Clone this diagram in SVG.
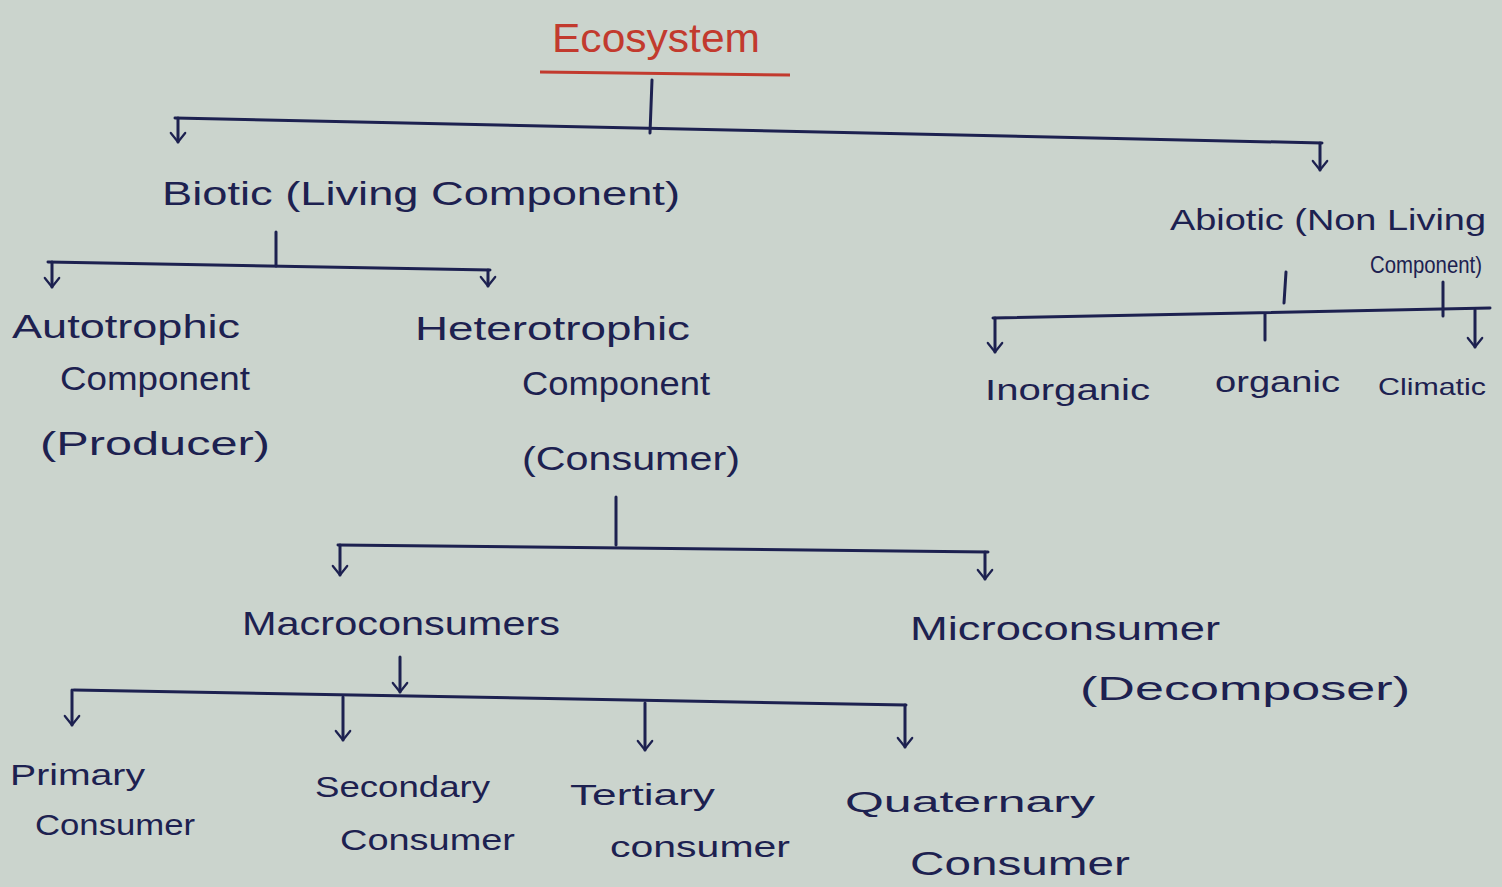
<svg xmlns="http://www.w3.org/2000/svg" width="1502" height="887" viewBox="0 0 1502 887">
<style>
.t{font-family:"Liberation Sans","DejaVu Sans",sans-serif;fill:#1d2150;font-size:34px}
.s{font-size:30px}
.xs{font-size:24px}
.ln{stroke:#1d2150;stroke-width:3;fill:none;stroke-linecap:round}
.ttl{font-family:"Liberation Sans",sans-serif;fill:#c23a2e;font-size:40px}
</style>
<defs>
<marker id="v" viewBox="0 0 20 20" refX="18" refY="10" markerWidth="18" markerHeight="18" markerUnits="userSpaceOnUse" orient="auto">
<path d="M8,2 L18,10 L8,18" fill="none" stroke="#1d2150" stroke-width="2.5" stroke-linecap="round" stroke-linejoin="round"/>
</marker>
</defs>
<rect width="1502" height="887" fill="#cbd4cd"/>
<g id="connectors">
<line class="ln" x1="652" y1="80" x2="650" y2="133"/>
<line class="ln" x1="175" y1="118" x2="1322" y2="143"/>
<line class="ln" x1="178" y1="118" x2="178" y2="142" marker-end="url(#v)"/>
<line class="ln" x1="1320" y1="143" x2="1320" y2="170" marker-end="url(#v)"/>
<line class="ln" x1="276" y1="232" x2="276" y2="266"/>
<line class="ln" x1="48" y1="262" x2="490" y2="270"/>
<line class="ln" x1="52" y1="262" x2="52" y2="287" marker-end="url(#v)"/>
<line class="ln" x1="488" y1="270" x2="488" y2="286" marker-end="url(#v)"/>
<line class="ln" x1="616" y1="497" x2="616" y2="545"/>
<line class="ln" x1="338" y1="545" x2="988" y2="552"/>
<line class="ln" x1="340" y1="545" x2="340" y2="575" marker-end="url(#v)"/>
<line class="ln" x1="985" y1="552" x2="985" y2="579" marker-end="url(#v)"/>
<line class="ln" x1="400" y1="657" x2="400" y2="692" marker-end="url(#v)"/>
<line class="ln" x1="74" y1="690" x2="906" y2="705"/>
<line class="ln" x1="72" y1="690" x2="72" y2="725" marker-end="url(#v)"/>
<line class="ln" x1="343" y1="697" x2="343" y2="740" marker-end="url(#v)"/>
<line class="ln" x1="645" y1="703" x2="645" y2="750" marker-end="url(#v)"/>
<line class="ln" x1="905" y1="705" x2="905" y2="747" marker-end="url(#v)"/>
<line class="ln" x1="1286" y1="272" x2="1284" y2="303"/>
<line class="ln" x1="993" y1="318" x2="1490" y2="308"/>
<line class="ln" x1="995" y1="318" x2="995" y2="352" marker-end="url(#v)"/>
<line class="ln" x1="1265" y1="314" x2="1265" y2="340"/>
<line class="ln" x1="1443" y1="282" x2="1443" y2="316"/>
<line class="ln" x1="1475" y1="310" x2="1475" y2="347" marker-end="url(#v)"/>
</g>
<g id="ecosystem">
<text class="ttl" x="552" y="52" textLength="208" lengthAdjust="spacingAndGlyphs">Ecosystem</text>
<line x1="540" y1="72" x2="790" y2="75" stroke="#c23a2e" stroke-width="3"/>
</g>
<g id="biotic"><text class="t" x="162" y="205" textLength="518" lengthAdjust="spacingAndGlyphs">Biotic (Living Component)</text></g>
<g id="abiotic">
<text class="t s" x="1170" y="230" textLength="316" lengthAdjust="spacingAndGlyphs">Abiotic (Non Living</text>
<text class="t xs" x="1370" y="273" textLength="112" lengthAdjust="spacingAndGlyphs">Component)</text>
</g>
<g id="autotrophic">
<text class="t" x="12" y="338" textLength="228" lengthAdjust="spacingAndGlyphs">Autotrophic</text>
<text class="t" x="60" y="390" textLength="190" lengthAdjust="spacingAndGlyphs">Component</text>
<text class="t" x="40" y="455" textLength="230" lengthAdjust="spacingAndGlyphs">(Producer)</text>
</g>
<g id="heterotrophic">
<text class="t" x="415" y="340" textLength="275" lengthAdjust="spacingAndGlyphs">Heterotrophic</text>
<text class="t" x="522" y="395" textLength="188" lengthAdjust="spacingAndGlyphs">Component</text>
<text class="t" x="522" y="470" textLength="218" lengthAdjust="spacingAndGlyphs">(Consumer)</text>
</g>
<g id="inorganic"><text class="t s" x="985" y="400" textLength="165" lengthAdjust="spacingAndGlyphs">Inorganic</text></g>
<g id="organic"><text class="t s" x="1215" y="392" textLength="125" lengthAdjust="spacingAndGlyphs">organic</text></g>
<g id="climatic"><text class="t xs" x="1378" y="395" textLength="108" lengthAdjust="spacingAndGlyphs">Climatic</text></g>
<g id="macro"><text class="t" x="242" y="635" textLength="318" lengthAdjust="spacingAndGlyphs">Macroconsumers</text></g>
<g id="micro">
<text class="t" x="910" y="640" textLength="310" lengthAdjust="spacingAndGlyphs">Microconsumer</text>
<text class="t" x="1080" y="700" textLength="330" lengthAdjust="spacingAndGlyphs">(Decomposer)</text>
</g>
<g id="primary">
<text class="t s" x="10" y="785" textLength="135" lengthAdjust="spacingAndGlyphs">Primary</text>
<text class="t s" x="35" y="835" textLength="160" lengthAdjust="spacingAndGlyphs">Consumer</text>
</g>
<g id="secondary">
<text class="t s" x="315" y="797" textLength="175" lengthAdjust="spacingAndGlyphs">Secondary</text>
<text class="t s" x="340" y="850" textLength="175" lengthAdjust="spacingAndGlyphs">Consumer</text>
</g>
<g id="tertiary">
<text class="t s" x="570" y="805" textLength="145" lengthAdjust="spacingAndGlyphs">Tertiary</text>
<text class="t s" x="610" y="857" textLength="180" lengthAdjust="spacingAndGlyphs">consumer</text>
</g>
<g id="quaternary">
<text class="t s" x="845" y="812" textLength="250" lengthAdjust="spacingAndGlyphs">Quaternary</text>
<text class="t" x="910" y="875" textLength="220" lengthAdjust="spacingAndGlyphs">Consumer</text>
</g>
</svg>
